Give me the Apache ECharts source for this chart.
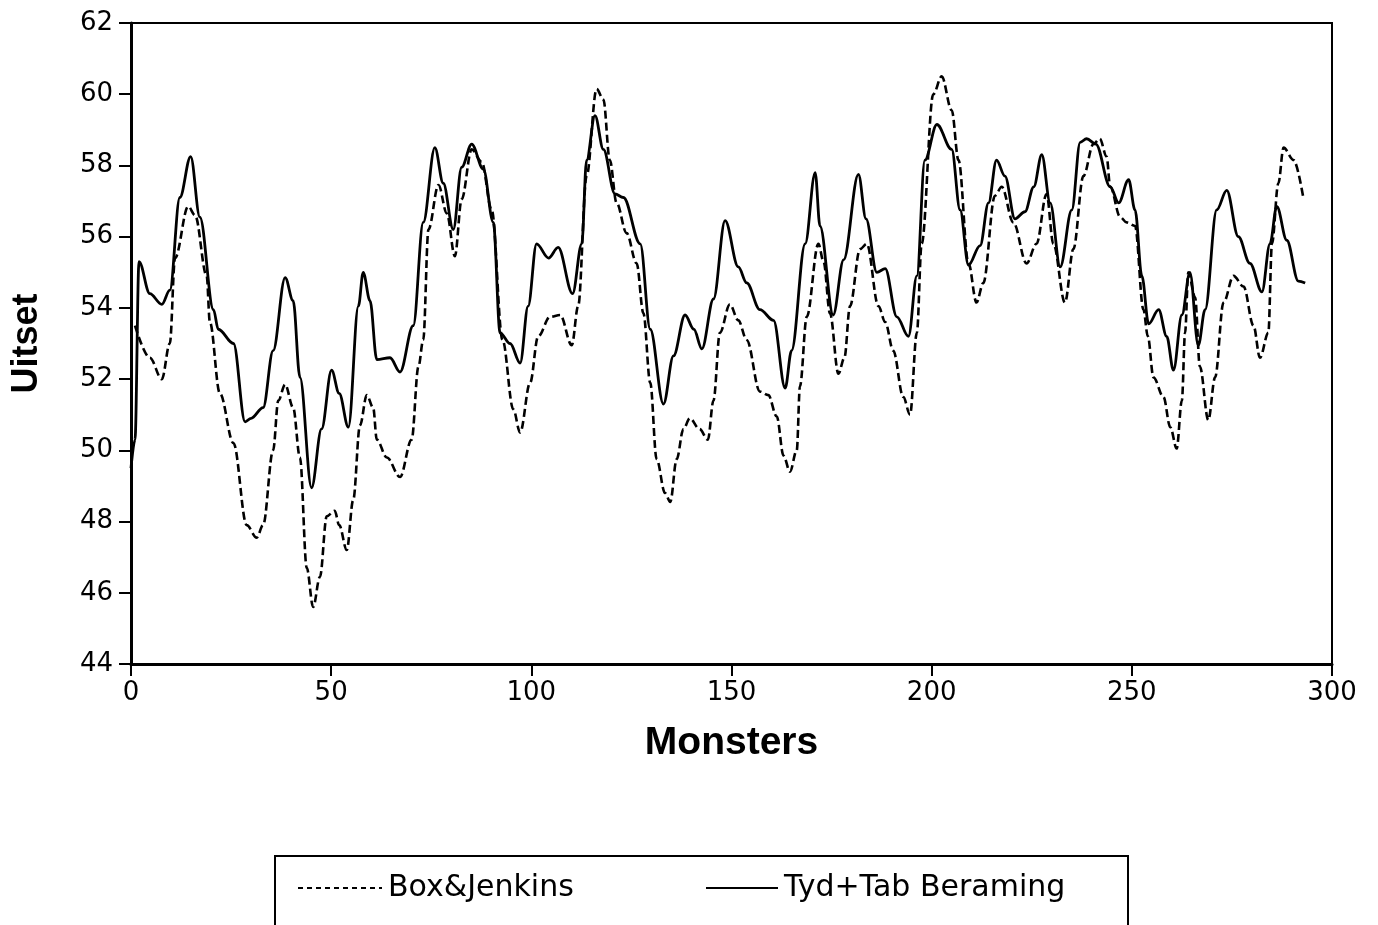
<!DOCTYPE html>
<html>
<head>
<meta charset="utf-8">
<title>Uitset per maand</title>
<script src="https://cdn.jsdelivr.net/npm/echarts@6/dist/echarts.min.js"></script>
<style>
  html, body { margin: 0; padding: 0; background: #ffffff; }
  #chart { width: 1378px; height: 925px; }
</style>
</head>
<body>
<div id="chart"></div>
<script>
// Box & Jenkins forecast: month number and value
const boxMonths = [1, 4.7, 7.7, 9.7, 11, 14.3, 16, 18.9, 19.7, 22.2, 25.6, 28.9, 31.4, 33, 35.5, 36.8, 38.5, 40.5, 42.2, 43.9,
  45.5, 47.2, 48.9, 50.9, 52, 53.9, 55.5, 57.2, 58.9, 60.5, 61.4, 63.9, 67.2, 70.1, 71.8, 73, 74.3, 76.8, 78.9, 80.9,
  82.6, 85.1, 87.6, 90.1, 92.8, 95.5, 97.2, 99.7, 101.7, 104.7, 107.2, 110.1, 111.7, 113.8, 116.3, 118, 119.6, 121.3, 123.8, 126.3,
  128, 129.7, 131.3, 133.4, 134.7, 136.3, 138, 139.6, 142, 144.1, 145.5, 147.1, 149.6, 151.7, 153.8, 157.1, 159.2, 161.3, 163, 164.6,
  166.3, 167.1, 168.8, 171.7, 173, 174.6, 176.7, 178.2, 179.6, 182.1, 183.8, 186.7, 188.4, 190.4, 192.9, 194.6, 196.3, 197.5, 200.4, 202.5,
  205, 206.7, 209.2, 211.2, 212.9, 215.8, 217.5, 220.4, 223.7, 226.2, 228.7, 230.4, 233.3, 235.4, 237.9, 240.4, 242, 243.7, 244.6, 247.1,
  248.7, 250.8, 252.9, 254, 255.4, 257.9, 259.6, 261.2, 262.5, 263.3, 264.1, 265.8, 267, 269.1, 270.8, 272.9, 275.4, 277.9, 280.4, 282,
  284.1, 285, 286.6, 287.9, 290.4, 292.9];
const boxValues = [53.5, 52.6, 52.0, 53.0, 55.4, 56.85, 56.6, 54.9, 53.6, 51.6, 50.2, 47.9, 47.55, 47.9, 50.0, 51.4, 51.85, 51.2, 49.8, 46.7,
  45.6, 46.45, 48.15, 48.3, 47.9, 47.2, 48.6, 50.7, 51.55, 51.2, 50.3, 49.8, 49.25, 50.3, 52.35, 53.1, 56.2, 57.45, 56.65, 55.45,
  57.05, 58.45, 58.1, 56.75, 53.1, 51.15, 50.5, 51.9, 53.2, 53.75, 53.8, 52.95, 54.05, 57.7, 60.15, 59.85, 58.15, 56.95, 56.1, 55.25,
  53.85, 51.9, 49.75, 48.8, 48.55, 49.75, 50.6, 50.9, 50.6, 50.3, 51.4, 53.3, 54.1, 53.65, 53.1, 51.65, 51.55, 50.95, 49.85, 49.4,
  50.0, 51.8, 53.75, 55.8, 55.3, 53.85, 52.15, 52.6, 54.05, 55.65, 55.8, 54.05, 53.6, 52.8, 51.5, 51.0, 53.3, 55.8, 60.0, 60.5,
  59.55, 58.15, 55.25, 54.15, 54.7, 57.15, 57.4, 56.4, 55.25, 55.8, 57.2, 55.8, 54.15, 55.65, 57.7, 58.6, 58.75, 58.25, 57.4, 56.55,
  56.4, 56.3, 53.95, 53.2, 52.05, 51.5, 50.65, 50.05, 51.4, 53.3, 55.0, 54.3, 52.35, 50.85, 52.05, 54.15, 54.9, 54.6, 53.5, 52.6,
  53.3, 55.8, 57.5, 58.5, 58.15, 57.05];

// Tyd + Tab beraming: month number and value
const tydMonths = [0, 1, 2, 4.7, 7.7, 9.7, 12.2, 14.9, 17.2, 20.6, 21.8, 25.6, 28.5, 30, 33, 35.5, 38.5, 40.5, 42.2, 45.1,
  47.6, 50.1, 52, 54.3, 56.8, 58, 59.7, 61.4, 64.7, 67.2, 70.5, 73, 75.9, 78, 80.5, 82.6, 85.1, 88, 90.5, 92.2,
  94.7, 97.2, 99.2, 101.3, 104.3, 106.7, 110.3, 112.6, 113.8, 115.9, 118, 120.9, 123, 127.2, 129.7, 133, 135.5, 138.4, 140.6, 142.6,
  145.5, 148.4, 151.7, 153.8, 157.1, 160.5, 163.4, 165, 168.4, 170.9, 172.1, 175.4, 178, 181.7, 183.6, 186.3, 188.4, 191.3, 194.2, 196.3,
  198.3, 201.3, 205, 207.1, 209.2, 212.1, 214.2, 216.2, 218.3, 220.8, 223.3, 225.5, 227.5, 229.6, 232.1, 235, 237.1, 238.7, 241, 244.6,
  246.7, 249.2, 250.8, 252.5, 254.2, 256.7, 258.7, 260.4, 262.5, 264.5, 266.6, 268.3, 271.2, 273.7, 276.6, 279.5, 282.5, 284.5, 286.2, 288.7,
  291.6, 293.3];
const tydValues = [49.5, 50.3, 55.3, 54.4, 54.1, 54.5, 57.1, 58.25, 56.55, 53.95, 53.4, 53.0, 50.8, 50.9, 51.2, 52.8, 54.85, 54.2, 52.05, 48.95,
  50.6, 52.25, 51.6, 50.65, 54.05, 55.0, 54.2, 52.55, 52.6, 52.2, 53.5, 56.4, 58.5, 57.5, 56.2, 57.95, 58.6, 57.9, 56.4, 53.3,
  53.0, 52.45, 54.05, 55.8, 55.4, 55.7, 54.4, 55.8, 58.15, 59.4, 58.45, 57.2, 57.1, 55.8, 53.4, 51.3, 52.65, 53.8, 53.4, 52.85,
  54.25, 56.45, 55.15, 54.7, 53.95, 53.65, 51.75, 52.8, 55.8, 57.8, 56.3, 53.8, 55.35, 57.75, 56.5, 55.0, 55.1, 53.75, 53.2, 54.9,
  58.15, 59.15, 58.45, 56.75, 55.2, 55.75, 56.95, 58.15, 57.7, 56.5, 56.7, 57.4, 58.3, 56.95, 55.15, 56.75, 58.65, 58.75, 58.6, 57.4,
  56.95, 57.6, 56.75, 54.9, 53.55, 53.95, 53.2, 52.25, 53.8, 55.0, 52.95, 53.95, 56.75, 57.3, 56.0, 55.25, 54.45, 55.8, 56.85, 55.9,
  54.75, 54.7];

// Axis ranges and legend names
const xTicks = { min: 0, max: 300, step: 50 };
const yTicks = { min: 44, max: 62, step: 2 };
const seriesNames = ['Box&Jenkins', 'Tyd+Tab Beraming'];

const pairs = (xs, ys) => xs.map((x, i) => [x, ys[i]]);

const TITLE_FONT = '"Liberation Sans", Arial, Helvetica, sans-serif';
const TEXT_FONT = '"DejaVu Sans", "Liberation Sans", sans-serif';
const chart = echarts.init(document.getElementById('chart'), null, { renderer: 'canvas' });

const legendBase = {
  top: 868, itemHeight: 16, itemGap: 0,
  itemStyle: { opacity: 0, borderWidth: 0 },
  textStyle: { fontFamily: TEXT_FONT, fontSize: 30, color: '#000', padding: [0, 0, 0, 1] }
};

chart.setOption({
  backgroundColor: '#ffffff',
  animation: false,
  grid: {
    left: 131, right: 46, top: 23, bottom: 261,
    show: true, borderColor: '#000', borderWidth: 2, backgroundColor: 'transparent'
  },
  legend: [
    Object.assign({}, legendBase, {
      data: [seriesNames[0]], left: 292, itemWidth: 84,
      lineStyle: { type: [5, 4], width: 2 }
    }),
    Object.assign({}, legendBase, {
      data: [seriesNames[1]], left: 700, itemWidth: 72,
      lineStyle: { width: 2 }
    })
  ],
  graphic: [
    {
      type: 'rect', silent: true,
      shape: { x: 275, y: 856, width: 853, height: 200 },
      style: { fill: 'none', stroke: '#000', lineWidth: 2 }
    }
  ],
  xAxis: {
    type: 'value', min: xTicks.min, max: xTicks.max, interval: xTicks.step,
    name: 'Monsters', nameLocation: 'middle', nameGap: 60,
    nameTextStyle: { fontFamily: TITLE_FONT, fontSize: 39, fontWeight: 'bold', color: '#000' },
    axisLine: { show: true, lineStyle: { color: '#000', width: 3 } },
    axisTick: { show: true, inside: false, length: 12, lineStyle: { color: '#000', width: 2 } },
    axisLabel: { fontFamily: TEXT_FONT, fontSize: 26, color: '#000', margin: 16 },
    splitLine: { show: false }
  },
  yAxis: {
    type: 'value', min: yTicks.min, max: yTicks.max, interval: yTicks.step,
    name: 'Uitset', nameLocation: 'middle', nameGap: 86, nameRotate: 90,
    nameTextStyle: { fontFamily: TITLE_FONT, fontSize: 36, fontWeight: 'bold', color: '#000' },
    axisLine: { show: true, lineStyle: { color: '#000', width: 3 } },
    axisTick: { show: true, inside: false, length: 12, lineStyle: { color: '#000', width: 2 } },
    axisLabel: { fontFamily: TEXT_FONT, fontSize: 26, color: '#000', margin: 18 },
    splitLine: { show: false }
  },
  series: [
    {
      name: seriesNames[0], type: 'line', data: pairs(boxMonths, boxValues),
      smooth: 0.35, smoothMonotone: 'x', showSymbol: false, symbol: 'none',
      lineStyle: { color: '#000', width: 2.6, type: [8, 4] },
      itemStyle: { color: '#000' }
    },
    {
      name: seriesNames[1], type: 'line', data: pairs(tydMonths, tydValues),
      smooth: 0.35, smoothMonotone: 'x', showSymbol: false, symbol: 'none',
      lineStyle: { color: '#000', width: 2.8, type: 'solid' },
      itemStyle: { color: '#000' }
    }
  ]
});
</script>
</body>
</html>
